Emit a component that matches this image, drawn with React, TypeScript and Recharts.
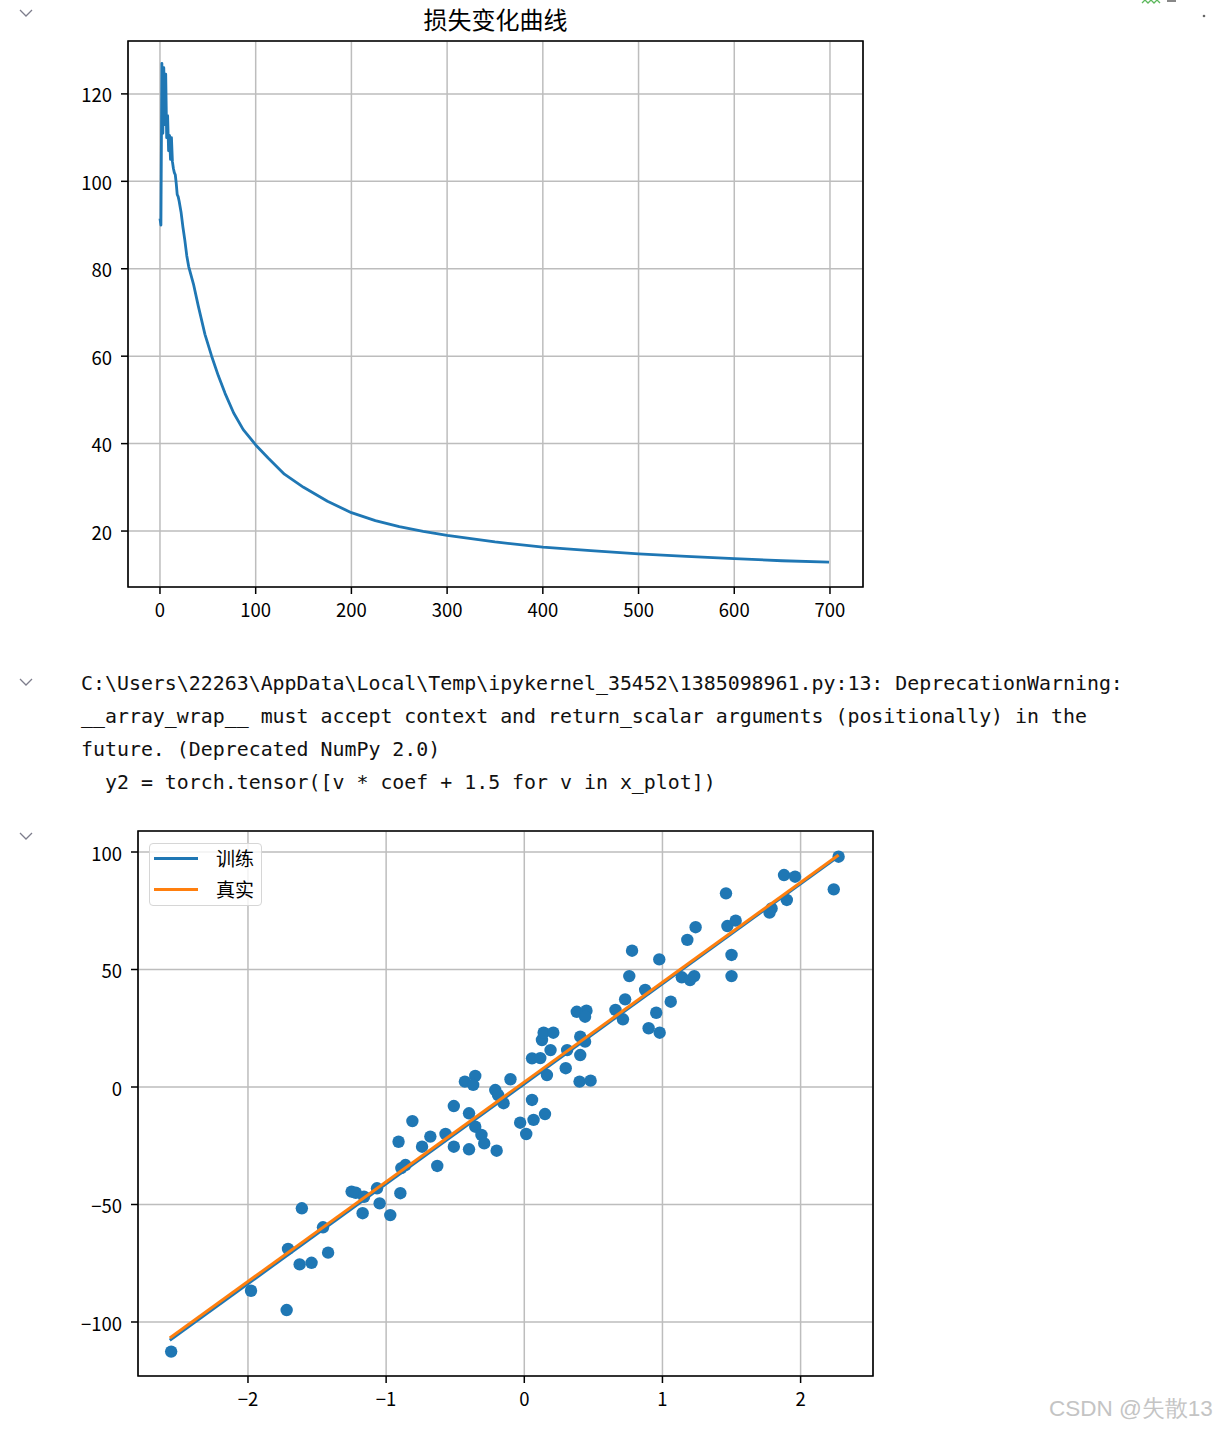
import React from 'react'
import { LineChart, Line, XAxis, YAxis, CartesianGrid, ReferenceArea, ComposedChart, Scatter } from 'recharts'

// loss curve
const LOSS_EPOCHS = [
  0, 1, 2, 3, 4, 5, 6, 7, 8, 9, 10, 11, 12, 13, 14, 15, 16, 17, 18, 19, 20, 22, 24, 26, 28, 30, 35, 40, 47, 54,
  61, 68, 77, 87, 100, 113, 130, 150, 175, 200, 225, 250, 275, 300, 350, 400, 450, 500, 550, 600, 650, 699,
]
const LOSS_VALUES = [
  91.5, 90.0, 127.0, 111.0, 126.0, 113.0, 124.5, 110.0, 115.0, 107.0, 110.5, 105.0, 110.0, 104.5, 103.0, 102.0,
  101.5, 99.5, 97.0, 96.5, 95.5, 93.0, 89.5, 86.5, 83.0, 80.5, 76.5, 71.5, 65.0, 60.0, 55.5, 51.5, 47.0, 43.2,
  39.7, 36.7, 33.0, 30.0, 26.8, 24.2, 22.4, 21.0, 19.9, 19.0, 17.5, 16.3, 15.5, 14.8, 14.2, 13.7, 13.2, 12.9,
]
const LOSS_X_TICKS = [0, 100, 200, 300, 400, 500, 600, 700]
const LOSS_Y_TICKS = [20, 40, 60, 80, 100, 120]
const LOSS_X_DOMAIN = [-33.4, 734.5]
const LOSS_Y_DOMAIN = [7.2, 132.1]
const LOSS_TITLE = '损失变化曲线'

// scatter of the samples
const SAMPLE_X = [
  -2.556, -1.978, -1.72, -1.71, -1.61, -1.626, -1.54, -1.42, -1.457, -1.25, -1.22, -1.16, -1.17, -1.066, -1.047,
  -0.97, -0.897, -0.89, -0.86, -0.91, -0.81, -0.74, -0.68, -0.63, -0.57, -0.51, -0.51, -0.40, -0.40, -0.355,
  -0.31, -0.29, -0.20, -0.43, -0.355, -0.37, -0.21, -0.19, -0.15, -0.10, -0.03, 0.014, 0.056, 0.067, 0.15,
  0.056, 0.164, 0.128, 0.14, 0.21, 0.19, 0.116, 0.31, 0.30, 0.38, 0.45, 0.44, 0.405, 0.44, 0.405, 0.40, 0.48,
  0.66, 0.714, 0.73, 0.76, 0.78, 0.875, 0.90, 0.955, 0.98, 0.977, 1.06, 1.14, 1.20, 1.23, 1.18, 1.24, 1.46,
  1.47, 1.53, 1.50, 1.50, 1.775, 1.79, 1.88, 1.96, 1.90, 2.275, 2.24,
]
const SAMPLE_Y = [
  -112.6, -86.7, -94.9, -68.9, -51.6, -75.5, -74.8, -70.5, -59.7, -44.5, -45.0, -46.7, -53.7, -43.1, -49.5,
  -54.5, -45.2, -34.5, -33.2, -23.3, -14.5, -25.4, -21.1, -33.6, -20.0, -8.1, -25.4, -26.5, -11.2, -16.9,
  -20.4, -24.0, -27.1, 2.3, 4.7, 0.9, -1.3, -3.4, -6.9, 3.3, -15.2, -20.0, -5.5, -14.0, -11.5,
  12.2, 5.1, 20.0, 23.1, 23.1, 15.7, 12.3, 15.7, 8.0, 32.0, 32.5, 29.9, 21.4, 19.3, 13.6, 2.3, 2.7,
  32.8, 28.8, 37.3, 47.2, 58.0, 41.3, 25.0, 31.6, 23.1, 54.3, 36.3, 46.7, 45.5, 47.2, 62.6, 68.0, 82.4,
  68.5, 70.8, 56.2, 47.2, 74.2, 76.0, 90.2, 89.5, 79.6, 98.0, 84.1,
]
const FIT_X = [-2.566, 2.275]
const TRAIN_Y = [-107.8, 98.2]
const TRUE_Y = [-106.8, 98.7]
const FIT_X_TICKS = [-2, -1, 0, 1, 2]
const FIT_Y_TICKS = [-100, -50, 0, 50, 100]
const FIT_X_DOMAIN = [-2.796, 2.524]
const FIT_Y_DOMAIN = [-122.98, 108.94]
const LEGEND_LABELS = ['训练', '真实']
const LEGEND_COLORS = ['#1f77b4', '#ff7f0e']

const WARNING_LINES = [
  'C:\\Users\\22263\\AppData\\Local\\Temp\\ipykernel_35452\\1385098961.py:13: DeprecationWarning:',
  '__array_wrap__ must accept context and return_scalar arguments (positionally) in the',
  'future. (Deprecated NumPy 2.0)',
  '  y2 = torch.tensor([v * coef + 1.5 for v in x_plot])',
]

const BLUE = '#1f77b4'
const GRID = '#bdbdbd'
const TICK_FONT = { fill: '#000', fontSize: 18.5, fontFamily: '"Noto Sans CJK SC", sans-serif' }
const Y_TICK_FONT = { ...TICK_FONT, dy: 2 }
const minus = (v: number) => String(v).replace('-', '\u2212')

const lossData = LOSS_EPOCHS.map((e, i) => ({ epoch: e, loss: LOSS_VALUES[i] }))
const sampleData = SAMPLE_X.map((x, i) => ({ x, y: SAMPLE_Y[i] }))
const trainLine = FIT_X.map((x, i) => ({ x, y: TRAIN_Y[i] }))
const trueLine = FIT_X.map((x, i) => ({ x, y: TRUE_Y[i] }))

function Chevron({ top }: { top: number }) {
  return (
    <svg style={{ position: 'absolute', left: 18, top }} width={16} height={10}>
      <polyline points="2,2 8,8 14,2" fill="none" stroke="#7d7d8c" strokeWidth={1.3} />
    </svg>
  )
}

function LossChart() {
  return (
    <div style={{ position: 'absolute', left: 0, top: 0 }}>
      <LineChart width={880} height={640} data={lossData} margin={{ top: 41, right: 17, bottom: 0, left: 0 }}>
        <CartesianGrid stroke={GRID} strokeWidth={1.5} />
        <XAxis
          dataKey="epoch"
          type="number"
          domain={LOSS_X_DOMAIN}
          ticks={LOSS_X_TICKS}
          allowDataOverflow
          height={53}
          axisLine={false}
          tickLine={{ stroke: '#000', strokeWidth: 1.5 }}
          tickSize={7}
          tickMargin={10}
          tick={TICK_FONT}
        />
        <YAxis
          type="number"
          domain={LOSS_Y_DOMAIN}
          ticks={LOSS_Y_TICKS}
          allowDataOverflow
          width={128}
          axisLine={false}
          tickLine={{ stroke: '#000', strokeWidth: 1.5 }}
          tickSize={7}
          tickMargin={9}
          tick={Y_TICK_FONT}
        />
        <Line
          dataKey="loss"
          stroke={BLUE}
          strokeWidth={2.8}
          dot={false}
          type="linear"
          strokeLinejoin="round"
          isAnimationActive={false}
        />
        <ReferenceArea
          x1={LOSS_X_DOMAIN[0]}
          x2={LOSS_X_DOMAIN[1]}
          y1={LOSS_Y_DOMAIN[0]}
          y2={LOSS_Y_DOMAIN[1]}
          fill="none"
          fillOpacity={0}
          stroke="#000"
          strokeWidth={1.6}
          ifOverflow="visible"
        />
      </LineChart>
      <div
        style={{
          position: 'absolute',
          left: 128,
          width: 735,
          top: 5,
          textAlign: 'center',
          fontFamily: '"Noto Sans CJK SC", sans-serif',
          fontSize: 24,
          lineHeight: '28px',
          color: '#000',
        }}
      >
        {LOSS_TITLE}
      </div>
    </div>
  )
}

const Dot = (p: any) => <circle cx={p.cx} cy={p.cy} r={6.2} fill={BLUE} />
const NoDot = () => <g />

function FitChart() {
  return (
    <div style={{ position: 'absolute', left: 0, top: 790 }}>
      <ComposedChart width={900} height={640} margin={{ top: 41, right: 27, bottom: 0, left: 0 }}>
        <CartesianGrid stroke={GRID} strokeWidth={1.5} />
        <XAxis
          dataKey="x"
          type="number"
          domain={FIT_X_DOMAIN}
          ticks={FIT_X_TICKS}
          allowDataOverflow
          height={54}
          axisLine={false}
          tickLine={{ stroke: '#000', strokeWidth: 1.5 }}
          tickSize={7}
          tickMargin={10}
          tick={TICK_FONT}
          tickFormatter={minus}
        />
        <YAxis
          dataKey="y"
          type="number"
          domain={FIT_Y_DOMAIN}
          ticks={FIT_Y_TICKS}
          allowDataOverflow
          width={138}
          axisLine={false}
          tickLine={{ stroke: '#000', strokeWidth: 1.5 }}
          tickSize={7}
          tickMargin={9}
          tick={Y_TICK_FONT}
          tickFormatter={minus}
        />
        <Scatter data={sampleData} shape={Dot} isAnimationActive={false} />
        <Scatter
          data={trainLine}
          shape={NoDot}
          line={{ stroke: LEGEND_COLORS[0], strokeWidth: 3 }}
          lineType="joint"
          isAnimationActive={false}
        />
        <Scatter
          data={trueLine}
          shape={NoDot}
          line={{ stroke: LEGEND_COLORS[1], strokeWidth: 3 }}
          lineType="joint"
          isAnimationActive={false}
        />
        <ReferenceArea
          x1={FIT_X_DOMAIN[0]}
          x2={FIT_X_DOMAIN[1]}
          y1={FIT_Y_DOMAIN[0]}
          y2={FIT_Y_DOMAIN[1]}
          fill="none"
          fillOpacity={0}
          stroke="#000"
          strokeWidth={1.6}
          ifOverflow="visible"
        />
      </ComposedChart>
      {/* legend, upper left */}
      <div
        style={{
          position: 'absolute',
          left: 149,
          top: 53,
          width: 111,
          height: 61,
          border: '1.5px solid #d6d6d6',
          borderRadius: 4,
          background: 'rgba(255,255,255,0.8)',
        }}
      >
        {LEGEND_LABELS.map((label, i) => (
          <div
            key={label}
            style={{
              position: 'absolute',
              left: 4,
              top: 1 + i * 31,
              height: 26,
              display: 'flex',
              alignItems: 'center',
            }}
          >
            <span style={{ display: 'inline-block', width: 44, height: 3, background: LEGEND_COLORS[i] }} />
            <span
              style={{
                marginLeft: 18,
                fontFamily: '"Noto Sans CJK SC", sans-serif',
                fontSize: 19,
                lineHeight: '26px',
                color: '#000',
              }}
            >
              {label}
            </span>
          </div>
        ))}
      </div>
    </div>
  )
}

export default function App() {
  return (
    <div
      style={{
        position: 'absolute',
        left: 0,
        top: 0,
        width: 1215,
        height: 1430,
        background: '#fff',
        overflow: 'hidden',
      }}
    >
      <Chevron top={8} />
      <Chevron top={677} />
      <Chevron top={831} />
      <LossChart />
      <pre
        style={{
          position: 'absolute',
          left: 81,
          top: 667,
          margin: 0,
          fontFamily: '"DejaVu Sans Mono", monospace',
          fontSize: 19.9,
          lineHeight: '33px',
          color: '#111',
        }}
      >
        {WARNING_LINES.join('\n')}
      </pre>
      <FitChart />
      <svg style={{ position: 'absolute', left: 1140, top: 0 }} width={75} height={20}>
        <polyline
          points="2,3 5,0 8,3 11,0 14,3 17,0 20,3"
          fill="none"
          stroke="#5cb85c"
          strokeWidth={1.3}
        />
        <rect x={27} y={0} width={9} height={2} fill="#888" />
        <circle cx={64} cy={16} r={1.3} fill="#666" />
      </svg>
      <div
        style={{
          position: 'absolute',
          left: 1049,
          top: 1398,
          fontFamily: '"Liberation Sans", Arial, sans-serif',
          fontSize: 22.5,
          lineHeight: '22.5px',
          color: '#c4c4c4',
          whiteSpace: 'nowrap',
          textShadow: '0 0 1px #fff',
        }}
      >
        CSDN @失散13
      </div>
    </div>
  )
}
